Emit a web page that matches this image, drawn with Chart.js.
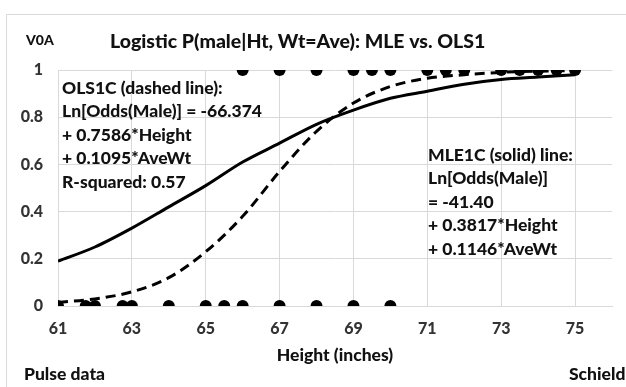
<!DOCTYPE html>
<html><head><meta charset="utf-8">
<script src="https://cdn.jsdelivr.net/npm/chart.js@4/dist/chart.umd.min.js"></script>
<style>html,body{margin:0;padding:0;background:#fff;}#wrap{width:626px;height:387px;position:relative;}</style>
</head><body><div id="wrap"><canvas id="c" width="626" height="387"></canvas></div>
<script>
// Observed data: 0 = female, 1 = male (height in inches)
const femaleHeights = [61, 61.75, 62, 62.75, 63, 64, 65, 65.5, 66, 67, 68, 69, 70];
const maleHeights = [66, 67, 68, 69, 69.5, 70, 71, 71.5, 72, 73, 73.5, 74, 74.5, 75];
// Curves at each inch
const curveHeights = [61, 62, 63, 64, 65, 66, 67, 68, 69, 70, 71, 72, 73, 74, 75];
const mleProb = [0.19, 0.25, 0.33, 0.42, 0.51, 0.61, 0.69, 0.77, 0.83, 0.88, 0.91, 0.94, 0.96, 0.97, 0.98];
const olsProb = [0.015, 0.03, 0.06, 0.12, 0.23, 0.38, 0.57, 0.74, 0.86, 0.93, 0.965, 0.98, 0.99, 0.995, 0.998];
const xTicks = [61, 63, 65, 67, 69, 71, 73, 75];
const yTicks = [0, 0.2, 0.4, 0.6, 0.8, 1];
const titleText = 'Logistic P(male|Ht, Wt=Ave): MLE vs. OLS1';
const olsNote = ['OLS1C (dashed line):', 'Ln[Odds(Male)] = -66.374', '+ 0.7586*Height', '+ 0.1095*AveWt', 'R-squared: 0.57'];
const mleNote = ['MLE1C (solid) line:', 'Ln[Odds(Male)]', '= -41.40', '+ 0.3817*Height', '+ 0.1146*AveWt'];

const FONT = 'Lato, "Open Sans", sans-serif';
const W = '900';
const toPts = (xs, ys) => xs.map((x, i) => ({x, y: ys[i]}));

const textPlugin = {
  id: 'texts',
  beforeDraw(chart) {
    const ctx = chart.ctx;
    ctx.save();
    ctx.strokeStyle = '#d9d9d9';
    ctx.lineWidth = 1;
    ctx.beginPath();
    ctx.moveTo(6.5, 400); ctx.lineTo(6.5, 14.5); ctx.lineTo(640, 14.5);
    ctx.stroke();
    ctx.restore();
  },
  afterDraw(chart) {
    const ctx = chart.ctx;
    const a = chart.chartArea;
    ctx.save();
    ctx.fillStyle = '#111';
    ctx.textBaseline = 'alphabetic';
    ctx.textAlign = 'left';
    ctx.font = W + ' 14px ' + FONT;
    ctx.fillText('V0A', 26, 45);
    ctx.font = W + ' 19.5px ' + FONT;
    ctx.fillText(titleText, 110, 48);
    ctx.font = W + ' 17.5px ' + FONT;
    olsNote.forEach((t, i) => ctx.fillText(t, 62, 94 + i * 23.4));
    mleNote.forEach((t, i) => ctx.fillText(t, 428, 161 + i * 23.4));
    ctx.textAlign = 'center';
    ctx.fillText('Height (inches)', (a.left + a.right) / 2, 361);
    ctx.textAlign = 'left';
    ctx.fillText('Pulse data', 24, 380);
    ctx.fillText('Schield', 569, 380);
    ctx.restore();
  }
};

new Chart(document.getElementById('c'), {
  type: 'scatter',
  data: {
    datasets: [
      {
        type: 'line', label: 'MLE', data: toPts(curveHeights, mleProb),
        borderColor: '#000', borderWidth: 3, pointRadius: 0, fill: false,
        cubicInterpolationMode: 'monotone'
      },
      {
        type: 'line', label: 'OLS', data: toPts(curveHeights, olsProb),
        borderColor: '#000', borderWidth: 3, borderDash: [10, 6], pointRadius: 0, fill: false,
        cubicInterpolationMode: 'monotone'
      },
      {
        label: 'Female', data: femaleHeights.map(h => ({x: h, y: 0})),
        pointRadius: 6, pointBackgroundColor: '#000', pointBorderColor: '#000', pointBorderWidth: 0
      },
      {
        label: 'Male', data: maleHeights.map(h => ({x: h, y: 1})),
        pointRadius: 6, pointBackgroundColor: '#000', pointBorderColor: '#000', pointBorderWidth: 0
      }
    ]
  },
  options: {
    responsive: false,
    animation: false,
    layout: {padding: {left: 0, right: 14, top: 70, bottom: 0}},
    plugins: {legend: {display: false}, tooltip: {enabled: false}, title: {display: false}},
    scales: {
      x: {
        type: 'linear', min: 61, max: 76,
        afterBuildTicks: s => { s.ticks = xTicks.map(v => ({value: v})); },
        afterFit: s => { s.height = 81; },
        grid: {color: '#d9d9d9', lineWidth: 1, drawTicks: false},
        border: {color: '#d9d9d9'},
        ticks: {padding: 13, color: '#333', font: {family: FONT, size: 16, weight: W},
          callback: v => String(v)}
      },
      y: {
        min: 0, max: 1,
        afterBuildTicks: s => { s.ticks = yTicks.map(v => ({value: v})); },
        afterFit: s => { s.width = 58; },
        grid: {color: '#d9d9d9', lineWidth: 1, drawTicks: false},
        border: {color: '#d9d9d9'},
        ticks: {padding: 15, color: '#333', font: {family: FONT, size: 16, weight: W},
          callback: v => String(Math.round(v * 10) / 10)}
      }
    }
  },
  plugins: [textPlugin]
});
</script></body></html>
